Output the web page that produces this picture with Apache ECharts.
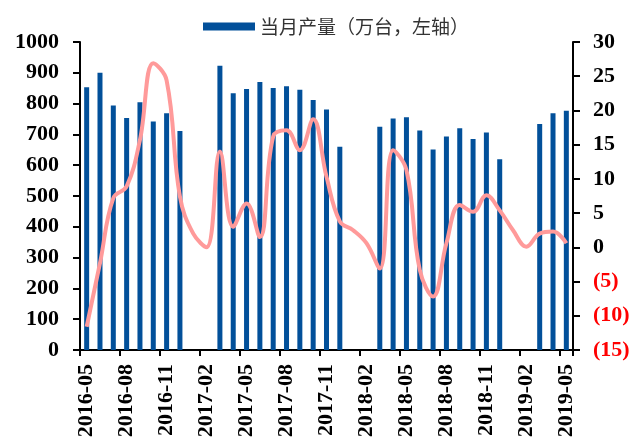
<!DOCTYPE html>
<html>
<head>
<meta charset="utf-8">
<script src="https://cdn.jsdelivr.net/npm/echarts@6/dist/echarts.min.js"></script>
<style>html,body{margin:0;padding:0;background:#fff}#c{width:638px;height:441px}</style>
</head>
<body>
<div id="c"></div>
<script>
const categories = ['2016-05','2016-06','2016-07','2016-08','2016-09','2016-10','2016-11','2016-12',
  '2017-01','2017-02','2017-03','2017-04','2017-05','2017-06','2017-07','2017-08','2017-09','2017-10','2017-11','2017-12',
  '2018-01','2018-02','2018-03','2018-04','2018-05','2018-06','2018-07','2018-08','2018-09','2018-10','2018-11','2018-12',
  '2019-01','2019-02','2019-03','2019-04','2019-05'];
const production = [853, 900, 794, 753, 804, 742, 769, 711,
  null, null, 923, 834, 847, 870, 851, 856, 845, 812, 781, 660,
  null, null, 725, 752, 756, 713, 651, 693, 720, 685, 706, 619,
  null, null, 734, 769, 777];
const growthSeries = [-11.6, -2.3, 7.2, 8.9, 15.7, 26.9, 24.4, 7.4,
  2.0, 0.0, 14.0, 3.0, 6.4, 1.5, 16.2, 17.1, 14.2, 18.7, 10.3, 3.8,
  2.5, 0.6, -3.1, 14.2, 11.3, -3.3, -7.2, 0.6, 6.2, 5.2, 7.6, 5.4,
  2.5, 0.1, 2.0, 2.3, 0.6];
const leftTicks = [0, 1000, 100];
const rightTicks = [-15, 30, 5];
const font = 'Liberation Serif';
const chart = echarts.init(document.getElementById('c'), null, {renderer: 'canvas'});
chart.setOption({
  animation: false,
  backgroundColor: '#fff',
  legend: {
    left: 198, top: 12,
    itemWidth: 52, itemHeight: 8, itemGap: 6,
    data: [{name: '当月产量（万台，左轴）', icon: 'rect'}],
    textStyle: {fontFamily: 'Noto Sans CJK SC', fontSize: 19, color: '#333'}
  },
  grid: {left: 80, right: 65, top: 42, bottom: 91},
  xAxis: {
    type: 'category', data: categories, boundaryGap: true,
    axisLine: {lineStyle: {color: '#000', width: 2}},
    axisTick: {show: true, interval: 2, alignWithLabel: false, length: 6, lineStyle: {color: '#000', width: 2}},
    axisLabel: {interval: 2, rotate: 90, margin: 14, color: '#000', fontFamily: font, fontWeight: 'bold', fontSize: 22}
  },
  yAxis: [{
    type: 'value', min: leftTicks[0], max: leftTicks[1], interval: leftTicks[2],
    splitLine: {show: false},
    axisLine: {show: true, lineStyle: {color: '#000', width: 2}},
    axisTick: {show: true, length: 7, lineStyle: {color: '#000', width: 2}},
    axisLabel: {margin: 21, color: '#000', fontFamily: font, fontWeight: 'bold', fontSize: 22,
      formatter: v => String(v)}
  }, {
    type: 'value', min: rightTicks[0], max: rightTicks[1], interval: rightTicks[2],
    splitLine: {show: false},
    axisLine: {show: true, lineStyle: {color: '#000', width: 2}},
    axisTick: {show: true, length: 7, lineStyle: {color: '#000', width: 2}},
    axisLabel: {
      margin: 20, fontFamily: font, fontWeight: 'bold', fontSize: 22,
      formatter: v => v < 0 ? '{n|(' + (-v) + ')}' : '{p|' + v + '}',
      rich: {
        n: {color: '#FF0000', fontFamily: font, fontWeight: 'bold', fontSize: 22},
        p: {color: '#000', fontFamily: font, fontWeight: 'bold', fontSize: 22}
      }
    }
  }],
  series: [{
    name: '当月产量（万台，左轴）', type: 'bar', data: production, barWidth: 5,
    itemStyle: {color: '#02509A'}
  }, {
    name: '同比', type: 'line', yAxisIndex: 1, data: growthSeries, smooth: 0.4,
    showSymbol: false, symbol: 'none', connectNulls: true,
    lineStyle: {color: '#FF9A9A', width: 4}
  }]
});
</script>
</body>
</html>
